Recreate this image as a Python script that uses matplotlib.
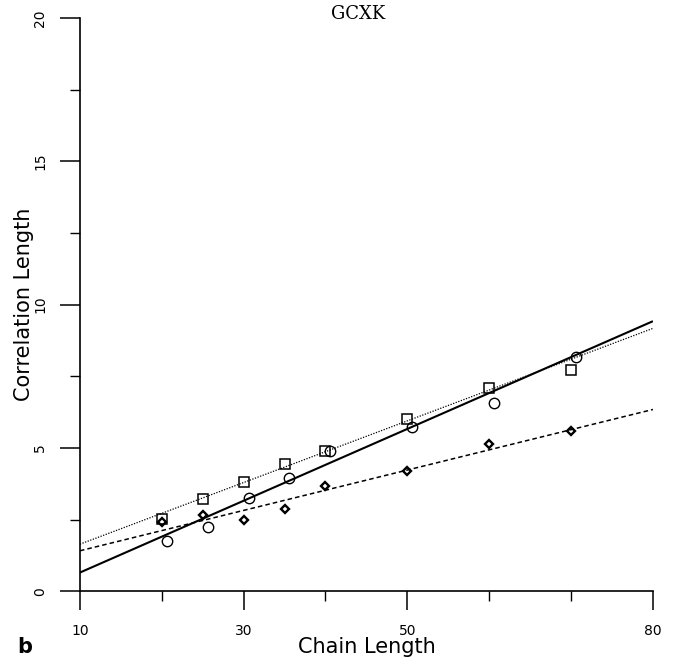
import numpy as np
import matplotlib
matplotlib.use('Agg')
import matplotlib.pyplot as plt

# chain lengths for each series
x_sq = [20, 25, 30, 35, 40, 50, 60, 70]
y_sq = [2.51, 3.22, 3.80, 4.44, 4.90, 6.00, 7.10, 7.71]

x_ci = [20.6, 25.6, 30.6, 35.6, 40.5, 50.6, 60.6, 70.6]
y_ci = [1.76, 2.23, 3.25, 3.94, 4.90, 5.74, 6.57, 8.17]

x_di = [20, 25, 30, 35, 40, 50, 60, 70]
y_di = [2.40, 2.65, 2.50, 2.85, 3.66, 4.20, 5.15, 5.58]

# fitted lines, value at chain length 10 and 80
fit_x = [10, 80]
fit_solid = [0.65, 9.42]
fit_dotted = [1.64, 9.17]
fit_dashed = [1.41, 6.34]

xticks_major = [10, 30, 50, 80]
xticks_minor = [20, 40, 60, 70]
yticks_major = [0, 5, 10, 15, 20]
yticks_minor = [2.5, 7.5, 12.5, 17.5]

fig = plt.figure(figsize=(6.83, 6.65), dpi=100)
ax = fig.add_axes([0.117, 0.111, 0.839, 0.862])

ax.plot(fit_x, fit_solid, color='black', lw=1.5, solid_capstyle='butt')
ax.plot(fit_x, fit_dotted, color='black', lw=0.9, linestyle=(0, (1, 1.2)))
ax.plot(fit_x, fit_dashed, color='black', lw=1.1, linestyle=(0, (3, 2)))

ax.plot(x_sq, y_sq, linestyle='none', marker='s', ms=7.5, mfc='none', mec='black', mew=1.1)
ax.plot(x_ci, y_ci, linestyle='none', marker='o', ms=7.5, mfc='none', mec='black', mew=1.0)
ax.plot(x_di, y_di, linestyle='none', marker='D', ms=4.5, mfc='none', mec='black', mew=1.7)

ax.set_xlim(10, 80)
ax.set_ylim(0, 20)
for s in ['top', 'right']:
    ax.spines[s].set_visible(False)
for s in ['left', 'bottom']:
    ax.spines[s].set_linewidth(1.2)

ax.set_xticks(xticks_major)
ax.set_xticks(xticks_minor, minor=True)
ax.set_yticks(yticks_major)
ax.set_yticks(yticks_minor, minor=True)
ax.set_xticklabels([str(v) for v in xticks_major])
ax.set_yticklabels([str(v) for v in yticks_major], rotation=90, va='center')

ax.tick_params(which='major', direction='out', length=13.5, width=1.1, labelsize=10, pad=10)
ax.tick_params(which='minor', direction='out', length=7, width=1.0)
ax.tick_params(axis='y', which='major', length=14.4, pad=9)

ax.set_xlabel('Chain Length', fontsize=15, va='center')
ax.xaxis.set_label_coords(0.5, -0.098)
ax.set_ylabel('Correlation Length', fontsize=15, va='center')
ax.yaxis.set_label_coords(-0.098, 0.5)

fig.text(358 / 683, 1 - 14 / 665, 'GCXK', fontsize=13, family='DejaVu Serif',
         ha='center', va='center')
fig.text(0.025, 0.018, 'b', fontsize=15, fontweight='bold')

fig.savefig('out.png', dpi=100)
